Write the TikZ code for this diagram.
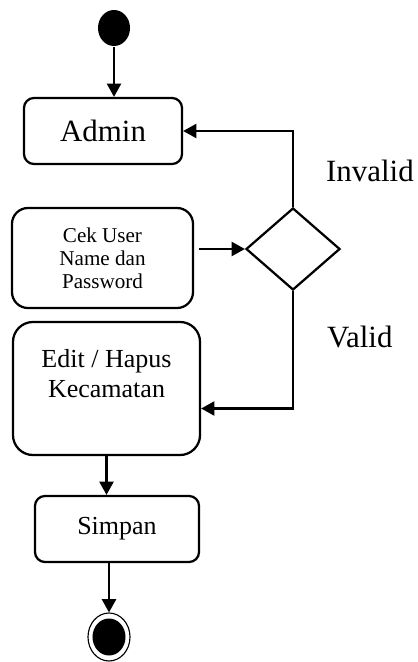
\documentclass[tikz,border=0pt]{standalone}
\usepackage{fontspec}
\setmainfont{Liberation Serif}
\usetikzlibrary{arrows.meta,shapes.geometric,calc}
\tikzset{
  action/.style={draw,rectangle,rounded corners=2.5mm,align=center,inner sep=0pt},
  decision/.style={draw,diamond,minimum width=2.35cm,minimum height=2.05cm,inner sep=0pt},
  startdot/.style={ellipse,fill,minimum width=0.8cm,minimum height=0.9cm,inner sep=0pt},
  enddot/.style={ellipse,draw,line width=0.8pt,minimum width=1.05cm,minimum height=1.2cm,inner sep=0pt},
  lbl/.style={font=\fontsize{22}{26}\selectfont,anchor=base west,inner sep=0pt}
}

\begin{document}
\begin{tikzpicture}[x=0.025cm,y=-0.025cm,>={Triangle[length=3.3mm,width=3.5mm]},line width=1.6pt]
  \useasboundingbox (0,0) rectangle (417,662);
  \node[startdot] (start) at (114,28) {};
  \node[action,minimum width=3.95cm,minimum height=1.65cm,font=\fontsize{22}{26}\selectfont] (admin) at (103,131) {Admin};
  \node[action,minimum width=4.525cm,minimum height=2.5cm,rounded corners=4mm,font=\fontsize{15}{16.5}\selectfont] (cek) at (102.5,258) {\rule{0pt}{0.35cm}Cek User\\Name dan\\Password};
  \node[decision] (dec) at (293,249) {};
  \node[action,minimum width=4.675cm,minimum height=3.325cm,rounded corners=5mm,font=\fontsize{18.5}{21}\selectfont] (edit) at (106.5,388.5) {Edit / Hapus\\Kecamatan\\\mbox{}};
  \node[action,minimum width=4.1cm,minimum height=1.65cm,font=\fontsize{18.5}{21}\selectfont] (simpan) at (117,529) {Simpan};
  \node[enddot] (finish) at (109,637) {};
  \node[ellipse,fill,minimum width=0.825cm,minimum height=0.925cm,inner sep=0pt] (finishdot) at (finish.center) {};
  \node[lbl] (invalid) at (325,182) {Invalid};
  \node[lbl] (valid) at (326,347) {Valid};
  \draw[->] (start) -- (start |- admin.north);
  \draw[->] (dec.north) |- (admin.east);
  \draw[->,shorten <=1.2mm] (cek.east |- dec.west) -- (dec.west);
  \draw[->] (dec.south) |- ([yshift=-0.5cm]edit.east);
  \draw[->] (edit.south) -- (edit.south |- simpan.north);
  \draw[->] (simpan.south -| finish) -- (finish.north);
\end{tikzpicture}
\end{document}
